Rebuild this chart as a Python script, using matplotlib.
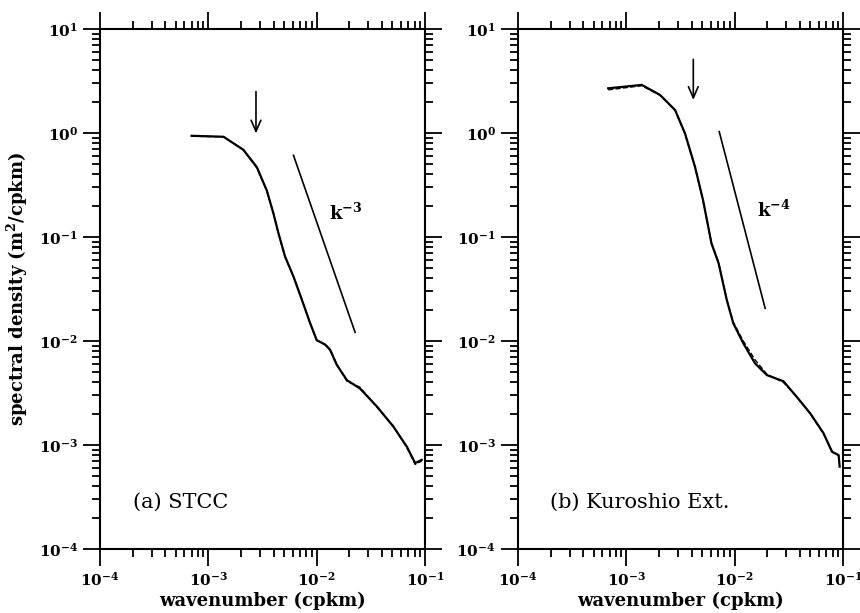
import numpy as np
import matplotlib
matplotlib.use("Agg")
import matplotlib.pyplot as plt
from matplotlib.ticker import LogLocator, FuncFormatter, NullFormatter

plt.rcParams['font.family'] = ['DejaVu Serif']
plt.rcParams['mathtext.fontset'] = 'dejavuserif'
plt.rcParams['mathtext.default'] = 'bf'

# (a) STCC wavenumber spectrum (solid and dashed estimates)
k_a = [7.0e-4, 1.38e-3, 2.1e-3, 2.8e-3, 3.46e-3, 3.98e-3, 4.43e-3, 5.1e-3, 6.1e-3,
       7.3e-3, 8.7e-3, 1.0e-2, 1.2e-2, 1.33e-2, 1.53e-2, 1.9e-2, 2.5e-2, 3.6e-2,
       5.1e-2, 6.8e-2, 8.1e-2, 9.3e-2]
s_a = [0.94, 0.92, 0.69, 0.47, 0.28, 0.169, 0.109, 0.065, 0.0416,
       0.0248, 0.0148, 0.0102, 0.0092, 0.0082, 0.0059, 0.0042, 0.0035, 0.00234,
       0.0015, 0.00096, 0.00067, 0.00072]
s_a_dash = [0.93, 0.92, 0.69, 0.46, 0.28, 0.170, 0.108, 0.064, 0.0420,
            0.0250, 0.0147, 0.0101, 0.0093, 0.0083, 0.0060, 0.0041, 0.0036, 0.00230,
            0.00152, 0.00094, 0.00065, 0.00070]

# (b) Kuroshio Extension
k_b = [6.8e-4, 1.39e-3, 2.05e-3, 2.82e-3, 3.48e-3, 4.3e-3, 5.1e-3, 6.1e-3, 7.1e-3,
       8.45e-3, 9.7e-3, 1.2e-2, 1.54e-2, 1.98e-2, 2.82e-2, 3.74e-2, 4.97e-2,
       6.6e-2, 7.9e-2, 9.1e-2, 9.3e-2]
s_b = [2.69, 2.9, 2.32, 1.66, 0.99, 0.474, 0.227, 0.087, 0.056,
       0.0248, 0.0148, 0.0095, 0.0061, 0.0047, 0.0041, 0.0029, 0.00202,
       0.0013, 0.00086, 0.0008, 0.00062]
s_b_dash = [2.6, 2.85, 2.30, 1.65, 0.98, 0.47, 0.225, 0.088, 0.057,
            0.0250, 0.0152, 0.0100, 0.0066, 0.0048, 0.0040, 0.0029, 0.00200,
            0.00128, 0.00088, 0.00079, 0.00064]

# reference slopes: (k0, s0) -> (k1, s1)
ref_a = ([6.1e-3, 2.26e-2], [0.61, 0.0121])
ref_b = ([7.2e-3, 1.91e-2], [1.03, 0.0206])
ref_text = ['$\\mathbf{k^{-3}}$', '$\\mathbf{k^{-4}}$']
ref_text_pos = [(1.83e-2, 0.17), (2.28e-2, 0.18)]
arrows = [(2.75e-3, 2.5, 0.99), (4.15e-3, 5.1, 2.08)]
titles = ['(a) STCC', '(b) Kuroshio Ext.']


def bold_pow(v, pos):
    return '$\\mathbf{10^{%d}}$' % int(round(np.log10(v)))


fig = plt.figure(figsize=(8.6, 6.13), dpi=100)
ax1 = fig.add_axes([0.1163, 0.1044, 0.378, 0.8483])
ax2 = fig.add_axes([0.6023, 0.1044, 0.378, 0.8483])

panels = [(ax1, k_a, s_a, s_a_dash, ref_a), (ax2, k_b, s_b, s_b_dash, ref_b)]
for i, (ax, k, s, sd, ref) in enumerate(panels):
    ax.loglog(k, s, color='black', lw=1.6)
    ax.loglog(k, sd, color='black', lw=1.0, ls='--')
    ax.loglog(ref[0], ref[1], color='black', lw=1.2)
    ax.text(ref_text_pos[i][0], ref_text_pos[i][1], ref_text[i], fontsize=13,
            ha='center', va='center')
    xa, ytop, ybot = arrows[i]
    ax.annotate('', xy=(xa, ybot), xytext=(xa, ytop),
                arrowprops=dict(arrowstyle='->,head_length=0.8,head_width=0.35',
                                color='black', lw=1.2, shrinkA=0, shrinkB=0))
    ax.text(0.10, 0.09, titles[i], transform=ax.transAxes, fontsize=15,
            ha='left', va='center')

    ax.set_xlim(1e-4, 1e-1)
    ax.set_ylim(1e-4, 1e1)
    ax.xaxis.set_major_locator(LogLocator(base=10, numticks=10))
    ax.yaxis.set_major_locator(LogLocator(base=10, numticks=10))
    ax.xaxis.set_minor_locator(LogLocator(base=10, subs=np.arange(2, 10), numticks=20))
    ax.yaxis.set_minor_locator(LogLocator(base=10, subs=np.arange(2, 10), numticks=20))
    ax.xaxis.set_major_formatter(FuncFormatter(bold_pow))
    ax.yaxis.set_major_formatter(FuncFormatter(bold_pow))
    ax.xaxis.set_minor_formatter(NullFormatter())
    ax.yaxis.set_minor_formatter(NullFormatter())
    ax.tick_params(which='both', direction='out', top=True, right=True,
                   labelsize=11, width=1.3)
    ax.tick_params(which='major', length=12, pad=4)
    ax.tick_params(which='minor', length=6)
    for sp in ax.spines.values():
        sp.set_linewidth(1.5)
    ax.set_xlabel('wavenumber (cpkm)', fontsize=13, fontweight='bold', labelpad=2)

ax1.set_ylabel('spectral density (m$^{2}$/cpkm)', fontsize=13, fontweight='bold',
               labelpad=6)

fig.savefig('out.png', dpi=100)
